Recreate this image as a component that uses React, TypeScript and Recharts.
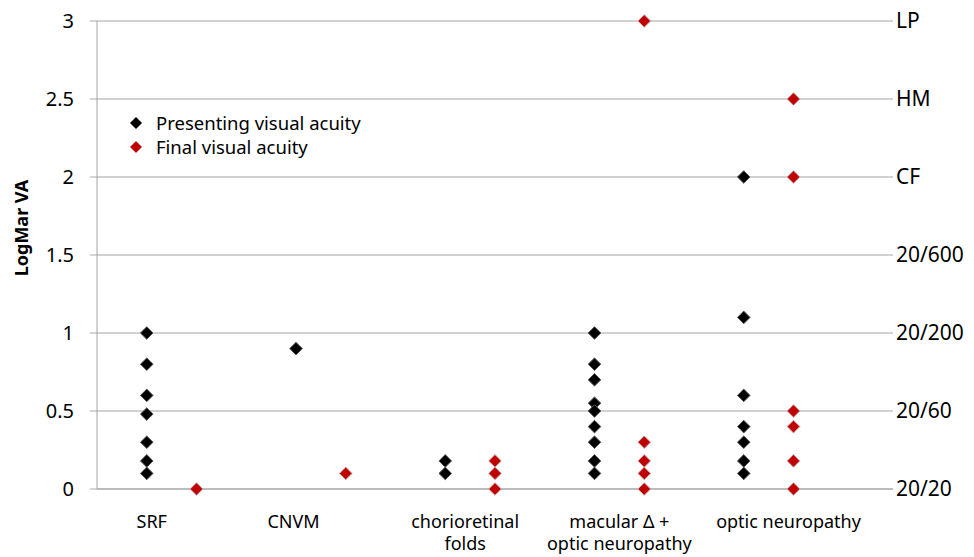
import { ScatterChart, Scatter, XAxis, YAxis, CartesianGrid, Legend, Label } from "recharts";

const categories = ["SRF", "CNVM", "chorioretinal\nfolds", "macular Δ +\noptic neuropathy", "optic neuropathy"];
const categoryTickX = [1.1, 3.95, 7.4, 10.5, 13.9];
const presentingSlot = [1, 4, 7, 10, 13];
const finalSlot = [2, 5, 8, 11, 14];

const presentingValues = [
  [1.0, 0.8, 0.6, 0.48, 0.3, 0.18, 0.1],
  [0.9],
  [0.18, 0.1],
  [1.0, 0.8, 0.7, 0.55, 0.5, 0.4, 0.3, 0.18, 0.1],
  [2.0, 1.1, 0.6, 0.4, 0.3, 0.18, 0.1],
];
const finalValues = [
  [0],
  [0.1],
  [0.18, 0.1, 0],
  [3, 0.3, 0.18, 0.1, 0],
  [2.5, 2.0, 0.5, 0.4, 0.18, 0],
];

const logMarTicks = [0, 0.5, 1, 1.5, 2, 2.5, 3];
const snellenLabels = ["20/20", "20/60", "20/200", "20/600", "CF", "HM", "LP"];

const seriesNames = ["Presenting visual acuity", "Final visual acuity"];

const presentingData = presentingValues.flatMap((vals, i) => vals.map((v) => ({ x: presentingSlot[i], y: v })));
const finalData = finalValues.flatMap((vals, i) => vals.map((v) => ({ x: finalSlot[i], y: v })));

const FONT = "'Noto Sans', sans-serif";

const diamond = (fill: string, stroke: string, r = 6.3) => (props: any) => {
  const { cx, cy } = props;
  return (
    <polygon
      points={`${cx},${cy - r} ${cx + r},${cy} ${cx},${cy + r} ${cx - r},${cy}`}
      fill={fill}
      stroke={stroke}
      strokeWidth={1}
    />
  );
};

// category names sit under the axis, two lines where needed
const CategoryTick = (props: any) => {
  const { x, y, payload } = props;
  const i = categoryTickX.indexOf(payload.value);
  const lines = (categories[i] ?? "").split("\n");
  return (
    <text x={x} y={y + 37} textAnchor="middle" fontSize={18} fontFamily={FONT} fill="#000">
      {lines.map((l, k) => (
        <tspan key={k} x={x} dy={k === 0 ? 0 : 22}>
          {l}
        </tspan>
      ))}
    </text>
  );
};

const LegendBox = () => (
  <svg width={300} height={52} style={{ fontFamily: FONT, display: "block", overflow: "visible" }}>
    <polygon points="8,5 14,11 8,17 2,11" fill="#000" />
    <text x={28} y={18} fontSize={18.5} fill="#000">{seriesNames[0]}</text>
    <polygon points="8,29 14,35 8,41 2,35" fill="#c00000" stroke="#d99a9a" />
    <text x={28} y={42} fontSize={18.5} fill="#000">{seriesNames[1]}</text>
  </svg>
);

export default function App() {
  return (
    <div style={{ position: "absolute", left: 0, top: 0, background: "#fff" }}>
      <ScatterChart width={974} height={557} margin={{ top: 21, right: 0, left: 0, bottom: 0 }}>
        <CartesianGrid horizontal vertical={false} stroke="#a6a6a6" strokeWidth={1.2} yAxisId="left" />
        <XAxis
          type="number"
          dataKey="x"
          domain={[0, 16]}
          ticks={categoryTickX}
          tick={<CategoryTick />}
          tickLine={false}
          tickSize={0}
          axisLine={{ stroke: "#a6a6a6" }}
          height={68}
          interval={0}
        />
        <YAxis
          yAxisId="left"
          type="number"
          dataKey="y"
          domain={[0, 3]}
          ticks={logMarTicks}
          width={97}
          tickSize={7}
          tickMargin={16}
          tickLine={{ stroke: "#a6a6a6" }}
          axisLine={{ stroke: "#a6a6a6" }}
          tick={{ fontSize: 20, fill: "#000", fontFamily: FONT }}
        >
          <Label
            content={() => (
              <text
                transform="translate(28,228) rotate(-90)"
                textAnchor="middle"
                fontSize={18}
                fontWeight="bold"
                fontFamily={FONT}
                fill="#000"
              >
                LogMar VA
              </text>
            )}
          />
        </YAxis>
        <YAxis
          yAxisId="right"
          orientation="right"
          type="number"
          dataKey="y"
          domain={[0, 3]}
          ticks={logMarTicks}
          width={81}
          tickLine={false}
          axisLine={false}
          tickSize={0}
          tickMargin={3}
          tickFormatter={(v: number) => snellenLabels[logMarTicks.indexOf(v)]}
          tick={{ fontSize: 21, fill: "#000", fontFamily: FONT, textAnchor: "start" }}
        />
        <Legend
          layout="horizontal"
          verticalAlign="middle"
          align="center"
          content={() => <LegendBox />}
          wrapperStyle={{ position: "absolute", top: 112, left: 128, width: 300 }}
        />
        <Scatter
          yAxisId="right"
          name="snellen"
          data={finalData}
          shape={() => <g />}
          legendType="none"
          isAnimationActive={false}
        />
        <Scatter
          yAxisId="left"
          name={seriesNames[0]}
          data={presentingData}
          shape={diamond("#000", "#555")}
          isAnimationActive={false}
        />
        <Scatter
          yAxisId="left"
          name={seriesNames[1]}
          data={finalData}
          shape={diamond("#c00000", "#c9a3a3")}
          isAnimationActive={false}
        />
      </ScatterChart>
    </div>
  );
}
